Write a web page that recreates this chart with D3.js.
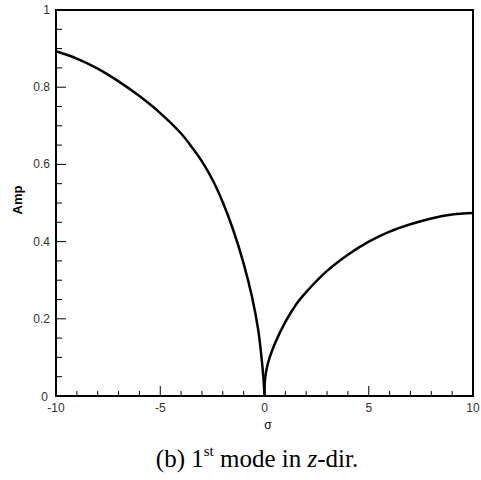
<!DOCTYPE html>
<html>
<head>
<meta charset="utf-8">
<script src="https://cdn.jsdelivr.net/npm/d3@7"></script>
<style>
  html, body { margin: 0; padding: 0; background: #fff; }
  svg { display: block; }
</style>
</head>
<body>
<svg id="chart" width="481" height="480"></svg>
<script>
// Amplitude of the 1st mode in z-direction versus sigma
const sigmaNeg = [-10, -9, -8, -7, -6, -5, -4, -3.5, -3, -2.5, -2, -1.5, -1, -0.6, -0.3, -0.13, -0.05, 0];
const ampNeg   = [0.893, 0.874, 0.848, 0.815, 0.777, 0.733, 0.680, 0.646, 0.608, 0.561, 0.502, 0.430, 0.343, 0.257, 0.171, 0.093, 0.045, 0];
const sigmaPos = [0, 0.02, 0.1, 0.25, 0.5, 1, 1.5, 2, 3, 4, 5, 6, 7, 8, 9, 10];
const ampPos   = [0, 0.04, 0.07, 0.10, 0.136, 0.192, 0.236, 0.269, 0.324, 0.366, 0.400, 0.426, 0.445, 0.460, 0.470, 0.474];

const xMajor = [-10, -5, 0, 5, 10];
const xMinor = d3.range(-9, 10, 1).filter(v => v % 5 !== 0);
const yMajor = [0, 0.2, 0.4, 0.6, 0.8, 1];
const yMinor = d3.range(0.05, 1, 0.05).filter(v => Math.abs(Math.round(v * 5) - v * 5) > 1e-6);

const svg = d3.select("#chart");
const plotL = 56, plotR = 473, plotT = 10, plotB = 396;

const x = d3.scaleLinear().domain([-10, 10]).range([plotL, plotR]);
const y = d3.scaleLinear().domain([0, 1]).range([plotB, plotT]);

// inward ticks
const g = svg.append("g");
g.selectAll(".xmaj").data(xMajor).join("line")
  .attr("x1", d => x(d)).attr("x2", d => x(d))
  .attr("y1", plotB).attr("y2", plotB - 10)
  .attr("stroke", "#000").attr("stroke-width", 1);
g.selectAll(".xmin").data(xMinor).join("line")
  .attr("x1", d => x(d)).attr("x2", d => x(d))
  .attr("y1", plotB).attr("y2", plotB - 5)
  .attr("stroke", "#000").attr("stroke-width", 1);
g.selectAll(".ymaj").data(yMajor).join("line")
  .attr("x1", plotL).attr("x2", plotL + 10)
  .attr("y1", d => y(d)).attr("y2", d => y(d))
  .attr("stroke", "#000").attr("stroke-width", 1);
g.selectAll(".ymin").data(yMinor).join("line")
  .attr("x1", plotL).attr("x2", plotL + 6)
  .attr("y1", d => y(d)).attr("y2", d => y(d))
  .attr("stroke", "#000").attr("stroke-width", 1);

// frame
svg.append("rect")
  .attr("x", plotL).attr("y", plotT)
  .attr("width", plotR - plotL).attr("height", plotB - plotT)
  .attr("fill", "none").attr("stroke", "#000").attr("stroke-width", 2);

// tick labels
const lblFont = "'Liberation Sans', Arial, sans-serif";
svg.selectAll(".xl").data(xMajor).join("text")
  .attr("x", d => x(d)).attr("y", plotB + 16)
  .attr("text-anchor", "middle")
  .attr("font-family", lblFont).attr("font-size", 12).attr("fill", "#333")
  .text(d => d);
svg.selectAll(".yl").data(yMajor).join("text")
  .attr("x", d => d === 0 ? plotL - 8 : plotL - 6)
  .attr("y", d => d === 0 ? y(d) + 5 : y(d) + 4)
  .attr("text-anchor", "end")
  .attr("font-family", lblFont).attr("font-size", 12).attr("fill", "#333")
  .text(d => d);

// axis titles
svg.append("text")
  .attr("transform", `translate(22, 200) rotate(-90)`)
  .attr("text-anchor", "middle")
  .attr("font-family", lblFont).attr("font-size", 13).attr("font-weight", "bold")
  .text("Amp");
svg.append("text")
  .attr("x", 268).attr("y", 429)
  .attr("text-anchor", "middle")
  .attr("font-family", lblFont).attr("font-size", 12)
  .text("σ");

// curves
const line = d3.line().x(d => x(d[0])).y(d => y(d[1])).curve(d3.curveCatmullRom.alpha(0.5));
svg.append("path")
  .datum(sigmaNeg.map((s, i) => [s, ampNeg[i]]))
  .attr("d", line).attr("fill", "none").attr("stroke", "#000").attr("stroke-width", 2.5);
svg.append("path")
  .datum(sigmaPos.map((s, i) => [s, ampPos[i]]))
  .attr("d", line).attr("fill", "none").attr("stroke", "#000").attr("stroke-width", 2.5);

// caption
const cap = svg.append("text")
  .attr("x", 257).attr("y", 467)
  .attr("text-anchor", "middle")
  .attr("font-family", "'Liberation Serif', 'Times New Roman', serif").attr("font-size", 25)
  .attr("fill", "#000");
cap.append("tspan").text("(b) 1");
cap.append("tspan").attr("font-size", 15).attr("dy", -11).text("st");
cap.append("tspan").attr("dy", 11).text(" mode in ");
cap.append("tspan").attr("font-style", "italic").text("z");
cap.append("tspan").text("-dir.");
</script>
</body>
</html>
